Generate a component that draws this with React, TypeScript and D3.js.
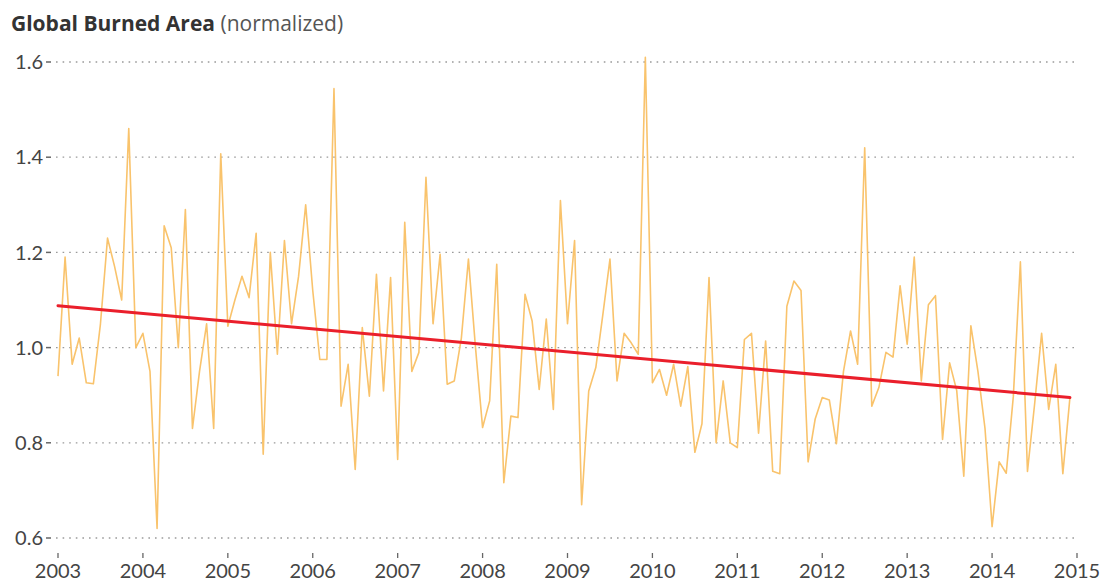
import React from "react";
import * as d3 from "d3";

const years = [2003, 2004, 2005, 2006, 2007, 2008, 2009, 2010, 2011, 2012, 2013, 2014, 2015];
const yTicks = [0.6, 0.8, 1.0, 1.2, 1.4, 1.6];

const v2003 = [0.94, 1.19, 0.965, 1.02, 0.926, 0.924, 1.05, 1.23, 1.17, 1.1, 1.46, 1.0];
const v2004 = [1.03, 0.95, 0.62, 1.256, 1.21, 1.0, 1.29, 0.83, 0.95, 1.05, 0.83, 1.407];
const v2005 = [1.045, 1.1, 1.15, 1.105, 1.24, 0.776, 1.2, 0.986, 1.225, 1.05, 1.15, 1.3];
const v2006 = [1.12, 0.975, 0.975, 1.544, 0.877, 0.965, 0.744, 1.042, 0.898, 1.154, 0.909, 1.147];
const v2007 = [0.765, 1.263, 0.95, 0.99, 1.358, 1.05, 1.196, 0.923, 0.93, 1.02, 1.186, 1.0];
const v2008 = [0.832, 0.888, 1.175, 0.716, 0.856, 0.853, 1.112, 1.056, 0.912, 1.06, 0.87, 1.309];
const v2009 = [1.05, 1.225, 0.67, 0.909, 0.958, 1.07, 1.186, 0.93, 1.03, 1.01, 0.986, 1.61];
const v2010 = [0.926, 0.954, 0.9, 0.965, 0.877, 0.96, 0.78, 0.84, 1.147, 0.8, 0.93, 0.8];
const v2011 = [0.79, 1.017, 1.03, 0.82, 1.014, 0.74, 0.735, 1.087, 1.14, 1.12, 0.76, 0.85];
const v2012 = [0.895, 0.89, 0.798, 0.95, 1.035, 0.965, 1.42, 0.877, 0.916, 0.99, 0.98, 1.13];
const v2013 = [1.007, 1.19, 0.93, 1.09, 1.109, 0.807, 0.968, 0.91, 0.73, 1.046, 0.95, 0.83];
const v2014 = [0.624, 0.76, 0.736, 0.897, 1.18, 0.74, 0.88, 1.03, 0.87, 0.965, 0.735, 0.895];

const monthly = [v2003, v2004, v2005, v2006, v2007, v2008, v2009, v2010, v2011, v2012, v2013, v2014];
const trendValues = [1.088, 0.895];

const W = 1115;
const H = 583;
const FONT = "Lato, 'Open Sans', sans-serif";
const TITLE_FONT = "'Open Sans', Lato, sans-serif";

export default function App() {
  const x = d3.scaleLinear().domain([2003, 2015]).range([58, 1077]);
  const y = d3.scaleLinear().domain([0.6, 1.6]).range([538, 62]);

  const points: [number, number][] = [];
  monthly.forEach((arr, yi) => {
    arr.forEach((v, m) => points.push([2003 + yi + m / 12, v]));
  });
  const lastT = points[points.length - 1][0];

  const line = d3
    .line<[number, number]>()
    .x((d) => x(d[0]))
    .y((d) => y(d[1]));

  const trend: [number, number][] = [
    [2003, trendValues[0]],
    [lastT, trendValues[1]],
  ];

  return (
    <svg
      width={W}
      height={H}
      style={{ position: "absolute", left: 0, top: 0, background: "#fff" }}
    >
      <text x={11} y={31} fontFamily={TITLE_FONT} fontSize={21} fill="#333">
        <tspan fontWeight={700}>Global Burned Area</tspan>
        <tspan fontWeight={400} fill="#555"> (normalized)</tspan>
      </text>

      {yTicks.map((t) => (
        <g key={t}>
          <line
            x1={56}
            x2={1075}
            y1={y(t)}
            y2={y(t)}
            stroke="#9a9a9a"
            strokeWidth={1.3}
            strokeDasharray="1.6,5"
          />
          <line x1={46} x2={51} y1={y(t)} y2={y(t)} stroke="#666" strokeWidth={1.5} />
          <text
            x={43}
            y={y(t)}
            dy="0.36em"
            textAnchor="end"
            fontFamily={FONT}
            fontSize={20}
            fill="#444"
          >
            {t.toFixed(1)}
          </text>
        </g>
      ))}

      {years.map((yr) => (
        <g key={yr}>
          <line x1={x(yr)} x2={x(yr)} y1={553} y2={558} stroke="#666" strokeWidth={1.3} />
          <text
            x={x(yr)}
            y={578}
            textAnchor="middle"
            fontFamily={FONT}
            fontSize={20}
            fill="#444"
          >
            {yr}
          </text>
        </g>
      ))}

      <path
        d={line(points) || ""}
        fill="none"
        stroke="#f9c36c"
        strokeWidth={1.6}
        strokeLinejoin="round"
      />
      <path
        d={line(trend) || ""}
        fill="none"
        stroke="#ea1f2b"
        strokeWidth={3}
        strokeLinecap="round"
      />
    </svg>
  );
}
